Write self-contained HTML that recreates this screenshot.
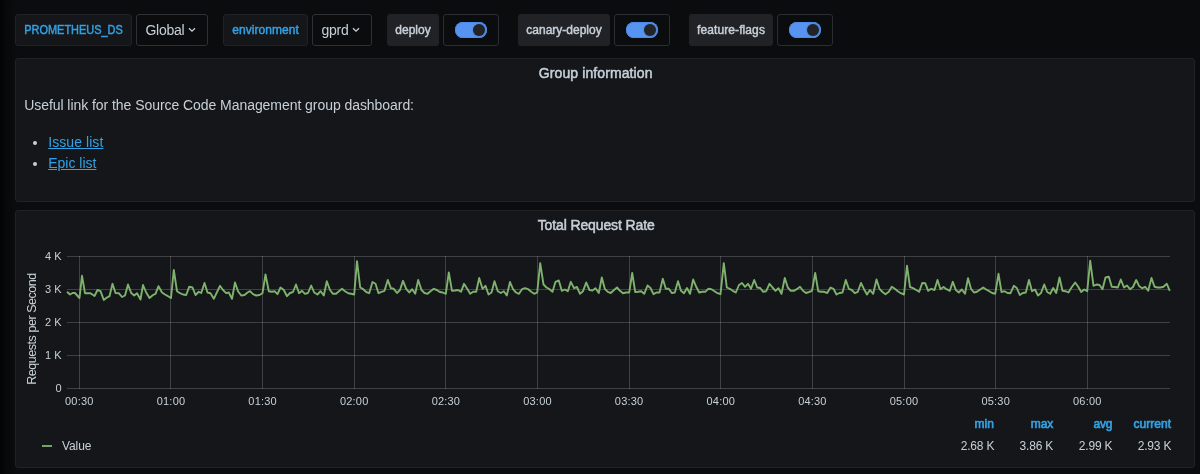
<!DOCTYPE html>
<html><head><meta charset="utf-8">
<style>
*{box-sizing:border-box;margin:0;padding:0}
html,body{width:1200px;height:474px;overflow:hidden;background:#0b0c0e;font-family:"Liberation Sans",sans-serif;color:#c7d0d9}
body{background:linear-gradient(to right,#030304 0,#07080a 6px,#0b0c0e 15px,#0b0c0e 100%)}
#root{position:absolute;left:0;top:0;width:1200px;height:474px;will-change:transform}
.abs{position:absolute}
.lbl{position:absolute;top:14px;height:32px;border-radius:3px;font-size:12px;line-height:32px;text-align:center;white-space:nowrap;-webkit-text-stroke:0.45px currentColor}
.lbl.v{background:#141619;border:1px solid #202226;color:#33a2e5;line-height:30px}
.lbl.a{background:#202226;color:#c7d0d9}
.lbl span{display:inline-block}
.dd{position:absolute;top:14px;height:32px;border:1px solid #2c3235;border-radius:3px;background:#0b0c0e;font-size:14px;line-height:30px;color:#c7d0d9;padding-left:8.4px;white-space:nowrap}
.dd svg{position:absolute;top:12px}
.sw{position:absolute;top:14px;height:32px;width:56px;border:1px solid #2a2d31;border-radius:3px;background:#0b0c0e}
.sw i{position:absolute;left:11px;top:7px;width:32px;height:16px;border-radius:8px;background:#5794f2;box-shadow:inset 0 0 0 1px #4e8aeb}
.sw b{position:absolute;left:29px;top:9px;width:12px;height:12px;border-radius:6px;background:#222324;box-shadow:0 0 2px rgba(0,0,0,0.3)}
.panel{position:absolute;left:15px;width:1180px;background:#141619;border:1px solid #202226;border-radius:3px}
.ptitle{position:absolute;top:6px;height:16px;line-height:16px;font-size:14px;white-space:nowrap;color:#c7d0d9;-webkit-text-stroke:0.5px currentColor}
a{color:#33a2e5;text-decoration:underline;text-underline-offset:1px}
.tick{position:absolute;font-size:11px;color:#c7d0d9;white-space:nowrap;line-height:14px}
.leg{position:absolute;font-size:12px;color:#c7d0d9;white-space:nowrap;line-height:14px}
.hd{color:#33a2e5;-webkit-text-stroke:0.65px currentColor}
.bul{position:absolute;width:4px;height:4px;border-radius:2px;background:#c7d0d9;left:17px}
</style></head><body><div id="root">
<div class="lbl v" style="left:15px;width:117px"><span style="transform:translateX(0.5px) scaleX(0.912)">PROMETHEUS_DS</span></div>
<div class="dd" style="left:136px;width:72px;letter-spacing:-0.25px">Global<svg width="8" height="6" viewBox="0 0 8 6" style="left:51px"><path d="M1 1.2 L4 4.2 L7 1.2" fill="none" stroke="#c7d0d9" stroke-width="1.3"/></svg></div>
<div class="lbl v" style="left:223px;width:85px;letter-spacing:0.05px">environment</div>
<div class="dd" style="left:312px;width:60px;letter-spacing:-0.2px">gprd<svg width="8" height="6" viewBox="0 0 8 6" style="left:39px"><path d="M1 1.2 L4 4.2 L7 1.2" fill="none" stroke="#c7d0d9" stroke-width="1.3"/></svg></div>
<div class="lbl a" style="left:387px;width:52px">deploy</div>
<div class="sw" style="left:443px"><i></i><b></b></div>
<div class="lbl a" style="left:518px;width:92px">canary-deploy</div>
<div class="sw" style="left:614px"><i></i><b></b></div>
<div class="lbl a" style="left:689px;width:84px;letter-spacing:0.1px">feature-flags</div>
<div class="sw" style="left:777px"><i></i><b></b></div>
<div class="panel" style="top:58px;height:144px">
  <div class="ptitle" style="left:522.8px;letter-spacing:0.1px">Group information</div>
  <div class="abs" style="left:8.2px;top:36px;font-size:14px;line-height:21px;white-space:nowrap;letter-spacing:-0.055px">Useful link for the Source Code Management group dashboard:</div>
  <div class="bul" style="top:82px"></div><div class="bul" style="top:103.2px"></div>
  <div class="abs" style="left:32.2px;top:73px;font-size:14px;line-height:21.2px;white-space:nowrap"><a style="letter-spacing:0.07px">Issue list</a><br><a>Epic list</a></div>
</div>
<div class="panel" style="top:210px;height:258px">
  <div class="ptitle" style="left:521.7px;letter-spacing:-0.12px">Total Request Rate</div>
</div>
<svg class="abs" style="left:0;top:0" width="1200" height="474" viewBox="0 0 1200 474">
<g stroke="rgba(200,200,200,0.24)" stroke-width="1">
<line x1="67" x2="1170" y1="256.5" y2="256.5"/><line x1="67" x2="1170" y1="289.5" y2="289.5"/><line x1="67" x2="1170" y1="322.5" y2="322.5"/><line x1="67" x2="1170" y1="355.5" y2="355.5"/><line x1="67" x2="1170" y1="388.5" y2="388.5"/>
<line x1="79.5" x2="79.5" y1="256" y2="389"/><line x1="170.5" x2="170.5" y1="256" y2="389"/><line x1="262.5" x2="262.5" y1="256" y2="389"/><line x1="354.5" x2="354.5" y1="256" y2="389"/><line x1="445.5" x2="445.5" y1="256" y2="389"/><line x1="537.5" x2="537.5" y1="256" y2="389"/><line x1="629.5" x2="629.5" y1="256" y2="389"/><line x1="720.5" x2="720.5" y1="256" y2="389"/><line x1="812.5" x2="812.5" y1="256" y2="389"/><line x1="904.5" x2="904.5" y1="256" y2="389"/><line x1="995.5" x2="995.5" y1="256" y2="389"/><line x1="1087.5" x2="1087.5" y1="256" y2="389"/>
</g>
<polyline fill="none" stroke="#7eb26d" stroke-width="1.9" stroke-linejoin="round" points="67.0,291.8 70.0,294.5 72.5,293.0 75.0,293.0 79.5,298.0 82.0,275.8 85.0,293.2 88.0,293.2 90.5,293.2 94.5,296.0 97.5,290.0 100.5,291.2 103.8,300.0 106.2,298.0 109.5,296.2 112.5,283.8 115.5,293.0 118.8,293.2 122.0,297.0 125.0,295.5 128.0,284.5 131.2,293.0 134.2,295.5 137.0,293.2 140.5,299.5 143.0,285.0 146.2,292.5 149.5,298.0 153.0,295.0 155.5,293.8 158.5,286.2 162.0,292.5 165.0,294.5 168.0,296.2 171.0,298.0 173.8,270.0 177.0,291.2 180.0,293.2 183.0,294.5 186.2,295.0 189.2,286.8 192.5,287.5 195.5,295.0 198.8,291.8 201.2,293.0 204.5,283.0 207.5,292.5 210.5,293.2 213.8,298.8 216.8,292.5 220.0,285.8 223.0,290.0 226.2,293.2 228.8,292.5 232.0,298.8 235.0,282.5 238.0,291.2 241.2,295.5 244.5,295.0 247.5,292.5 250.0,291.2 253.0,294.2 256.2,295.5 259.5,295.0 262.5,293.2 265.5,274.5 268.8,291.2 271.8,291.8 274.5,291.2 277.5,294.2 280.5,287.5 283.8,290.0 287.0,296.2 290.0,293.0 293.0,292.0 296.0,284.5 299.0,293.2 302.0,290.8 305.0,293.8 308.0,293.0 311.2,285.5 314.2,292.5 317.5,294.5 320.5,291.2 323.8,295.5 326.8,281.2 330.0,290.0 333.0,293.8 336.0,293.8 339.0,291.2 342.0,288.8 345.0,291.2 348.2,293.2 351.2,293.8 354.2,294.5 357.0,261.2 360.2,287.5 363.2,289.2 366.2,292.0 369.2,293.2 372.5,282.0 375.5,283.8 378.5,293.2 381.5,291.8 384.5,290.8 387.8,280.0 390.8,288.2 393.8,288.8 397.0,293.0 400.0,290.0 403.0,280.8 406.2,288.8 409.2,292.5 412.2,289.2 415.2,293.8 418.2,280.0 421.5,290.0 424.5,293.0 427.5,293.8 430.5,291.2 433.8,288.8 436.8,290.0 439.8,292.0 442.8,292.5 445.8,293.8 448.8,272.5 452.0,290.8 455.0,290.5 458.0,290.0 461.0,291.8 464.0,283.8 467.2,288.8 470.2,293.8 473.2,291.8 476.2,291.8 479.2,278.0 482.5,288.8 485.5,285.8 488.5,294.5 491.5,292.5 494.5,281.2 497.8,291.2 500.8,293.0 503.8,291.2 506.8,295.5 510.0,282.0 513.0,289.2 516.0,292.5 519.0,293.8 522.0,289.2 525.0,288.2 528.2,289.2 531.2,291.8 534.2,293.8 537.2,292.5 540.2,263.2 543.5,284.5 546.5,287.5 549.5,289.2 552.5,291.8 555.5,281.8 558.8,280.5 561.8,290.8 564.8,289.5 567.8,291.2 570.8,281.8 574.0,288.2 577.0,287.0 580.0,293.8 583.0,291.2 586.2,282.5 589.5,290.0 592.5,290.5 595.5,288.2 598.8,293.0 601.8,277.5 604.8,288.8 607.8,291.8 610.8,293.0 614.0,290.0 617.0,287.5 620.0,290.8 623.0,293.2 626.0,292.5 629.2,292.5 632.2,273.0 635.2,292.0 638.2,291.8 641.2,291.2 644.2,293.8 647.5,285.5 650.5,288.0 653.5,294.2 656.5,292.5 659.5,292.5 662.8,278.8 665.8,288.8 668.8,288.8 671.8,293.0 674.8,292.5 678.0,281.2 681.0,290.8 684.0,293.2 687.0,288.0 690.0,293.8 693.2,279.5 696.2,286.8 699.2,292.5 702.2,291.8 705.2,291.8 708.2,288.8 711.5,289.2 714.5,291.2 717.5,293.2 720.5,294.2 723.8,263.2 726.8,287.5 729.8,288.8 732.8,290.8 735.8,292.5 739.0,285.0 742.0,283.0 745.0,286.8 748.0,283.8 751.0,288.8 754.2,280.0 757.2,287.5 760.2,288.0 763.2,291.8 766.2,291.2 769.5,283.8 772.5,287.5 775.5,290.8 778.5,288.2 781.5,293.8 784.8,278.0 787.8,287.5 790.8,290.8 793.8,290.8 796.8,289.2 800.0,286.8 803.0,290.8 806.0,293.0 809.0,292.0 812.0,290.8 815.2,273.0 818.2,291.2 821.2,291.8 824.2,291.8 827.2,293.0 830.5,287.5 833.5,288.8 836.5,294.5 839.5,293.0 842.5,292.5 845.8,280.0 848.8,288.8 851.8,290.0 854.8,293.2 857.8,291.8 861.0,283.0 864.0,289.2 867.0,294.5 870.0,290.0 873.2,293.8 876.5,279.5 879.5,288.8 882.5,292.0 885.5,294.2 888.8,291.8 891.8,286.8 894.8,288.8 897.8,291.2 900.8,293.2 904.0,294.5 907.0,265.8 910.0,287.0 913.0,288.2 916.2,290.0 919.2,291.8 922.2,283.0 925.2,283.2 928.2,290.8 931.2,288.8 934.5,290.0 937.5,280.0 940.5,289.2 943.5,287.0 946.5,289.2 949.8,290.8 952.8,281.8 955.8,290.0 958.8,292.5 961.8,289.5 965.0,293.8 968.0,278.2 971.0,288.8 974.0,292.5 977.0,291.8 980.2,289.5 983.2,287.5 986.2,289.5 989.2,291.2 992.2,293.0 995.2,293.8 998.5,273.8 1001.5,292.0 1004.5,291.2 1007.5,293.0 1010.5,293.2 1013.8,285.8 1016.8,288.0 1019.8,295.0 1022.8,293.0 1025.8,292.5 1029.0,280.0 1032.0,291.2 1035.0,289.5 1038.0,295.5 1041.0,293.0 1044.2,284.5 1047.2,292.0 1050.2,293.8 1053.2,288.0 1056.2,293.0 1059.5,277.5 1062.5,290.8 1065.5,291.2 1068.5,292.5 1071.5,287.5 1075.2,282.5 1078.2,286.8 1081.2,292.0 1084.2,289.5 1087.2,291.2 1090.2,260.8 1093.5,285.8 1096.5,284.5 1099.5,285.0 1102.5,289.2 1105.5,277.5 1108.8,276.8 1111.8,286.8 1114.8,287.0 1117.8,287.5 1120.8,279.5 1124.0,287.5 1127.0,285.5 1130.0,289.2 1133.0,287.0 1136.2,280.0 1139.2,286.2 1142.2,288.2 1145.2,286.8 1148.2,290.8 1151.5,278.0 1154.5,286.8 1157.5,287.5 1160.5,287.5 1163.5,286.8 1166.8,283.8 1169.8,290.8"/>
<line x1="42" x2="52" y1="446" y2="446" stroke="#72a463" stroke-width="2"/>
</svg>
<div class="tick" style="right:1138.4px;top:249px">4 K</div>
<div class="tick" style="right:1138.4px;top:282px">3 K</div>
<div class="tick" style="right:1138.4px;top:315px">2 K</div>
<div class="tick" style="right:1138.4px;top:348px">1 K</div>
<div class="tick" style="right:1138.4px;top:381px">0</div>
<div class="tick" style="left:49.3px;top:394px;width:60px;text-align:center;letter-spacing:0.2px">00:30</div>
<div class="tick" style="left:141.0px;top:394px;width:60px;text-align:center;letter-spacing:0.2px">01:00</div>
<div class="tick" style="left:232.6px;top:394px;width:60px;text-align:center;letter-spacing:0.2px">01:30</div>
<div class="tick" style="left:324.2px;top:394px;width:60px;text-align:center;letter-spacing:0.2px">02:00</div>
<div class="tick" style="left:415.9px;top:394px;width:60px;text-align:center;letter-spacing:0.2px">02:30</div>
<div class="tick" style="left:507.5px;top:394px;width:60px;text-align:center;letter-spacing:0.2px">03:00</div>
<div class="tick" style="left:599.1px;top:394px;width:60px;text-align:center;letter-spacing:0.2px">03:30</div>
<div class="tick" style="left:690.8px;top:394px;width:60px;text-align:center;letter-spacing:0.2px">04:00</div>
<div class="tick" style="left:782.4px;top:394px;width:60px;text-align:center;letter-spacing:0.2px">04:30</div>
<div class="tick" style="left:874.0px;top:394px;width:60px;text-align:center;letter-spacing:0.2px">05:00</div>
<div class="tick" style="left:965.7px;top:394px;width:60px;text-align:center;letter-spacing:0.2px">05:30</div>
<div class="tick" style="left:1057.3px;top:394px;width:60px;text-align:center;letter-spacing:0.2px">06:00</div>
<div class="leg" style="left:31.6px;top:328.6px;width:0;height:0"><div style="position:absolute;transform:translate(-50%,-50%) rotate(-90deg);white-space:nowrap;font-size:12.5px;line-height:14px;letter-spacing:-0.45px">Requests per Second</div></div>
<div class="leg" style="left:62px;top:439px;letter-spacing:-0.1px">Value</div>
<div class="leg hd" style="right:205.8px;top:417px;letter-spacing:0.15px">min</div>
<div class="leg" style="right:205.8px;top:439px;letter-spacing:-0.2px">2.68 K</div>
<div class="leg hd" style="right:146.9px;top:417px;letter-spacing:-0.1px">max</div>
<div class="leg" style="right:146.9px;top:439px;letter-spacing:-0.2px">3.86 K</div>
<div class="leg hd" style="right:87.7px;top:417px;letter-spacing:-0.15px">avg</div>
<div class="leg" style="right:87.7px;top:439px;letter-spacing:-0.2px">2.99 K</div>
<div class="leg hd" style="right:28.8px;top:417px;letter-spacing:0.05px">current</div>
<div class="leg" style="right:28.8px;top:439px;letter-spacing:-0.2px">2.93 K</div>
</div></body></html>
